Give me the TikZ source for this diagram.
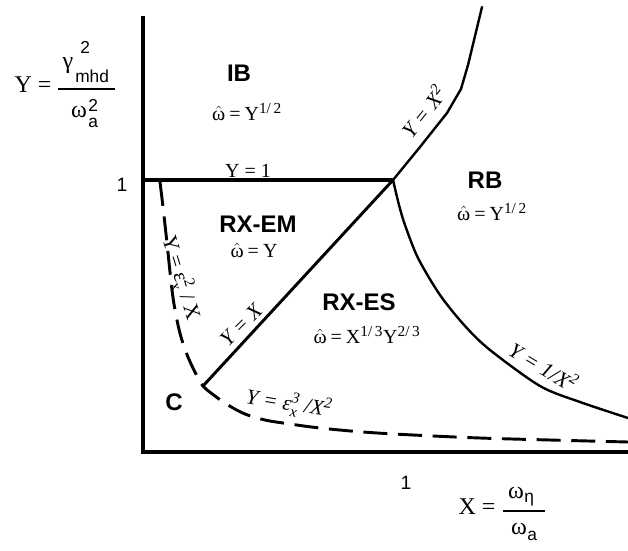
\documentclass[tikz,border=0pt]{standalone}
\usepackage{amsmath}
\usepackage{fontspec}
\setmainfont{Liberation Serif}
\setsansfont{Liberation Sans}
\newcommand\mysup[1]{\ensuremath{^{\text{\fontsize{11.5}{11.5}\selectfont #1}}}}
\newcommand\mysupsub[2]{\ensuremath{^{\text{\fontsize{11.5}{11.5}\selectfont #1}}_{\text{\fontsize{11.5}{11.5}\selectfont #2}}}}
\newcommand\omhat{\ensuremath{\hat{\text{ω}}}}
\newcommand\eqs{\hspace{3pt}=\hspace{3pt}}
\tikzset{
  axisline/.style={line width=3pt},
  boundline/.style={line width=2.2pt, line join=round, line cap=round},
  thinbound/.style={line width=1.8pt, line join=round, line cap=round},
  dashbound/.style={line width=2.2pt, dash pattern=on 18pt off 8pt},
  fracbar/.style={line width=1.1pt},
  region/.style={font=\sffamily\bfseries\fontsize{18}{18}\selectfont, inner sep=1pt},
  formula/.style={font=\fontsize{15}{15}\selectfont, inner sep=1pt},
  axislabel/.style={font=\fontsize{18}{18}\selectfont, inner sep=0pt},
  greek/.style={font=\fontsize{18}{18}\selectfont, inner sep=0pt},
  script/.style={font=\sffamily\fontsize{13}{13}\selectfont, inner sep=0pt},
  linelabel/.style={font=\itshape\fontsize{16}{16}\selectfont, inner sep=1pt},
  uplabel/.style={font=\fontsize{16}{16}\selectfont, inner sep=1pt},
  ticklabel/.style={font=\sffamily\fontsize{14.5}{14.5}\selectfont, inner sep=1pt}
}
\begin{document}
\begin{tikzpicture}[x=0.75pt,y=-0.75pt]
\useasboundingbox (0,0) rectangle (628,550);
% key points
\coordinate (O) at (143,452);
\coordinate (Ytop) at (143,16);
\coordinate (Xend) at (628,452);
\coordinate (Y1) at (143,180);
\coordinate (T) at (393,180);
\coordinate (Cpt) at (203,386);
\coordinate (Ptop) at (482,7);
% axes
\draw[axisline, line join=miter] (Ytop) -- (O) -- (Xend);
% Y = 1
\draw[axisline] (Y1) -- (T);
% Y = X
\draw[boundline] (Cpt) -- (T);
% Y = X^2
\draw[thinbound] (T) -- (420,147) -- (447,113) -- (461,89) -- (468,65) -- (Ptop);
% Y = 1/X^2
\draw[thinbound] plot[smooth, tension=0.5] coordinates {(T) (399,205) (405,225) (418,258) (440,295) (465,326) (490,350) (540,386) (580,402) (628,418)};
% dashed boundary
\draw[dashbound] plot[smooth, tension=0.6] coordinates {(160,182) (163,207) (167,243) (172,290) (176,315) (181,337) (188,357) (196,374) (Cpt) (215,396) (228,405) (245,414) (265,420) (290,424) (320,428) (363,432) (413,435) (480,438) (550,440) (628,442)};
% Y axis label
\node[axislabel] (yY) at (33,85) {Y =};
\node[greek, anchor=base] (ygam) at (68,68) {γ};
\node[script, anchor=base west] (ysup) at (80,53) {2};
\node[script, anchor=base west] (ysub) at (75,82) {mhd};
\coordinate (ybarL) at (58,89);
\coordinate (ybarR) at (115,89);
\draw[fracbar] (ybarL) -- (ybarR);
\node[greek, anchor=base] (yom) at (79,117) {ω};
\node[script, anchor=base west] (ysup2) at (88,111) {2};
\node[script, anchor=base west] (ysub2) at (88,127) {a};
% X axis label
\node[axislabel] (xX) at (477,507) {X =};
\node[greek, anchor=base] (xom) at (516,498) {ω};
\node[script, anchor=base west] (xsub) at (524,502) {η};
\coordinate (xbarL) at (503,511);
\coordinate (xbarR) at (545,511);
\draw[fracbar] (xbarL) -- (xbarR);
\node[greek, anchor=base] (xom2) at (519,534) {ω};
\node[script, anchor=base west] (xsub2) at (527,540) {a};
% tick labels
\node[ticklabel] (oney) at (122,185) {1};
\node[ticklabel] (onex) at (406,483) {1};
% regions
\node[region] (IB) at (239,73) {IB};
\node[formula] (IBf) at (247,112) {\omhat\eqs Y\mysup{1/\,2}};
\node[formula] (Yone) at (248,171) {Y = 1};
\node[region] (RXEM) at (258,224) {RX-EM};
\node[formula] (RXEMf) at (254,250) {\omhat\eqs Y};
\node[region] (RXES) at (359,302) {RX-ES};
\node[formula] (RXESf) at (367,335) {\omhat\eqs X\mysup{1/\,3}Y\mysup{2/\,3}};
\node[region] (RB) at (485,180) {RB};
\node[formula] (RBf) at (492,212) {\omhat\eqs Y\mysup{1/\,2}};
\node[region] (C) at (174,402) {C};
% line labels
\node[linelabel, rotate=45] (lYX) at (241,325) {Y = X};
\node[linelabel, rotate=51] (lYX2) at (423,111) {Y = X\mysup{2}};
\node[linelabel, rotate=-31] (lYinv) at (544,366) {Y = 1/X\mysup{2}};
\node[linelabel, rotate=-9] (lYeps3) at (289,404) {Y = ε\mysupsub{3}{x} /X\mysup{2}};
\node[uplabel, rotate=-73] (lYeps2) at (181,278) {Y = ε\mysupsub{2}{x} / X};
\end{tikzpicture}
\end{document}
